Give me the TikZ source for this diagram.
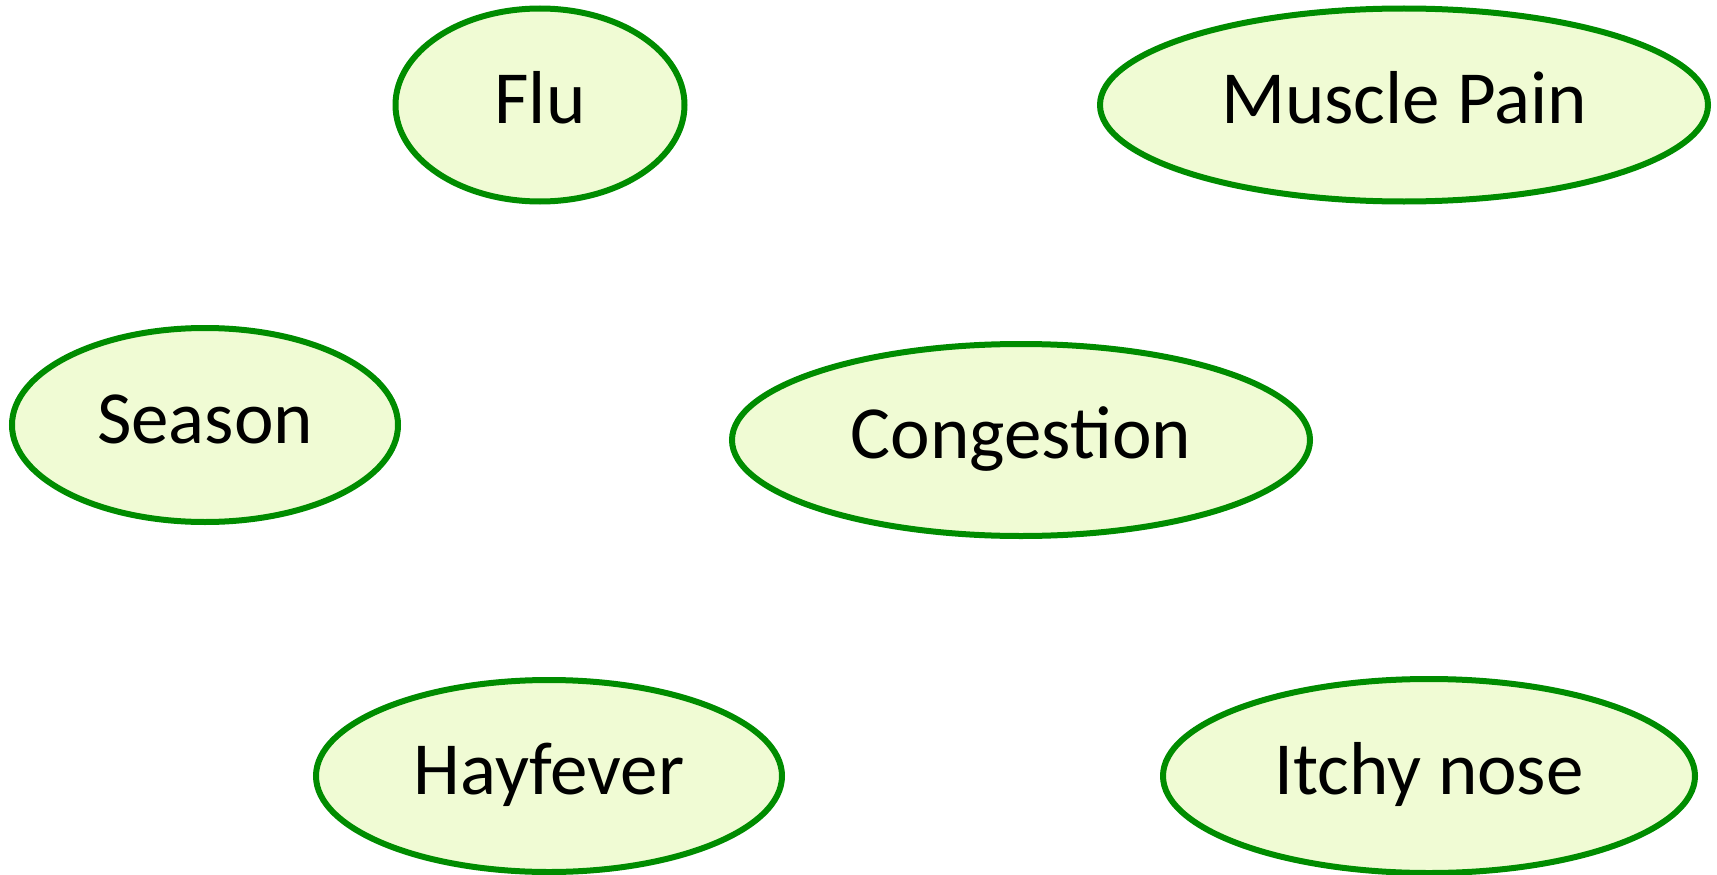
\documentclass[tikz,border=0pt]{standalone}
\usepackage{fontspec}
\setmainfont{Carlito}
\usetikzlibrary{shapes.geometric}
\definecolor{nodefill}{HTML}{F0FBD4}
\definecolor{nodeline}{HTML}{008C00}
\begin{document}
\begin{tikzpicture}[x=1pt,y=-1pt,
  var/.style={ellipse, draw=nodeline, fill=nodefill, line width=6pt,
    inner sep=0pt, font=\fontsize{75}{82}\selectfont, text=black,
    text height=56pt, text depth=19pt}]
\useasboundingbox (0,0) rectangle (1717,875);
\node[var, minimum width=289pt, minimum height=193pt] (flu) at (540,105) {Flu};
\node[var, minimum width=608pt, minimum height=193pt] (muscle) at (1404,105) {Muscle Pain};
\node[var, minimum width=386pt, minimum height=194pt] (season) at (205,425) {Season};
\node[var, minimum width=578pt, minimum height=192pt] (congestion) at (1021,440) {Congestion};
\node[var, minimum width=466pt, minimum height=192pt] (hayfever) at (549,776) {Hayfever};
\node[var, minimum width=532pt, minimum height=194pt] (itchy) at (1429,776) {Itchy nose};
\end{tikzpicture}
\end{document}
